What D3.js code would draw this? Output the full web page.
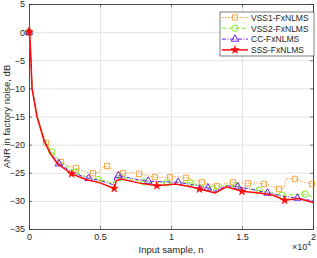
<!DOCTYPE html>
<html>
<head>
<meta charset="utf-8">
<script src="https://cdn.jsdelivr.net/npm/d3@7"></script>
<style>
  body { margin: 0; background: #fff; }
  text { font-family: Arial, "Liberation Sans", Helvetica, sans-serif; }
</style>
</head>
<body>
<div id="chart"></div>
<script>
// [sample, dB, isMarker]
var vss1 = [[0,0,1],[120,-5,0],[250,-10,0],[600,-15,0],[1200,-19.7,1],[1700,-21.8,0],[2250,-23.1,1],[2800,-23.8,0],[3310,-24.2,1],[3900,-24.8,0],[4500,-25.1,1],[4950,-24.9,0],[5150,-24.1,0],[5500,-23.8,1],[5800,-24.4,0],[6100,-24.9,0],[6620,-25.1,1],[7200,-25.0,0],[7750,-25.2,1],[8300,-25.5,0],[8870,-25.8,1],[9930,-25.8,1],[10500,-25.7,0],[11060,-25.9,1],[11600,-26.4,0],[12180,-26.7,1],[12700,-27.0,0],[13240,-27.4,1],[13800,-26.9,0],[14370,-26.7,1],[15420,-26.9,1],[16000,-26.8,0],[16550,-27.0,1],[17100,-27.4,0],[17610,-27.9,1],[17950,-27.7,0],[18100,-26.0,0],[18730,-26.1,1],[19300,-26.6,0],[19930,-27.0,1],[20000,-27.0,0]];
var vss2 = [[0,0,1],[130,-5,0],[230,-10,0],[580,-15,0],[1080,-19.2,0],[1620,-21.3,1],[2300,-23.3,0],[3240,-24.9,1],[4000,-25.7,0],[4860,-26.2,1],[5500,-26.5,0],[5950,-26.9,0],[6150,-25.9,0],[6480,-25.8,1],[7200,-26.2,0],[8100,-26.6,1],[9000,-26.7,0],[9720,-26.8,1],[10500,-26.6,0],[11340,-26.8,1],[12200,-27.3,0],[12960,-27.9,1],[13800,-27.2,0],[14580,-27.4,1],[15400,-27.8,0],[16200,-28.1,1],[17000,-28.5,0],[17820,-29.0,1],[18700,-28.9,0],[19440,-28.8,1],[20000,-29.3,0]];
var cc = [[0,0,1],[130,-5,0],[215,-10,0],[570,-15,0],[1070,-19.3,0],[1500,-21.4,0],[2100,-23.4,1],[3000,-24.8,0],[3800,-25.7,0],[4200,-26.0,1],[5000,-26.4,0],[5900,-27.1,0],[6100,-25.6,0],[6300,-25.5,1],[7400,-26.1,0],[8400,-26.5,1],[9500,-26.6,0],[10500,-26.7,1],[11500,-27.1,0],[12600,-27.7,1],[13100,-28.3,0],[13900,-27.3,0],[14700,-27.5,1],[15600,-27.9,0],[16800,-28.6,1],[17900,-29.2,0],[18900,-29.5,1],[20000,-30.0,0]];
var sss = [[0,0,1],[30,1,0],[140,-5,0],[210,-10,0],[560,-15,0],[1060,-19.3,0],[1500,-21.6,0],[2000,-23.4,0],[3000,-25.2,1],[4000,-26.2,0],[5000,-26.8,0],[6000,-27.8,1],[6150,-26.4,0],[6500,-26.1,0],[7700,-26.8,0],[9000,-27.3,1],[10300,-27.0,0],[11400,-27.5,0],[12000,-27.9,1],[13100,-28.6,0],[13900,-27.5,0],[15000,-28.3,1],[16200,-28.6,0],[17200,-29.0,0],[18000,-29.9,1],[19000,-29.6,0],[20000,-30.3,0]];

var xTicks = [0, 5000, 10000, 15000, 20000];
var xTickLabels = ["0", "0.5", "1", "1.5", "2"];
var yTicks = [5, 0, -5, -10, -15, -20, -25, -30, -35];

var series = [
  { name: "VSS1-FxNLMS", data: vss1, color: "#f7a540", dash: "1.5,1.5", width: 1, marker: "square" },
  { name: "VSS2-FxNLMS", data: vss2, color: "#80f020", dash: "4,2.5", width: 1, marker: "circle" },
  { name: "CC-FxNLMS", data: cc, color: "#6a1ef0", dash: "4,1.5,1,1.5", width: 1, marker: "triangle" },
  { name: "SSS-FxNLMS", data: sss, color: "#ff0a0a", dash: null, width: 1.5, marker: "star" }
];

var width = 317, height = 258;
var margin = {top: 4, right: 4, bottom: 29, left: 29};
var w = width - margin.left - margin.right;
var h = height - margin.top - margin.bottom;

var svg = d3.select("#chart").append("svg")
  .attr("width", width)
  .attr("height", height);

var g = svg.append("g").attr("transform", "translate(" + margin.left + "," + margin.top + ")");

var x = d3.scaleLinear().domain([0, 20000]).range([0, w]);
var y = d3.scaleLinear().domain([-35, 5]).range([h, 0]);

// grid
g.selectAll(".gx").data(xTicks).enter().append("line")
  .attr("x1", function(d) { return x(d) + 0.5 }).attr("x2", function(d) { return x(d) + 0.5 })
  .attr("y1", 0).attr("y2", h)
  .attr("stroke", "#e3e3e3").attr("stroke-width", 1);
g.selectAll(".gy").data(yTicks).enter().append("line")
  .attr("y1", function(d) { return y(d) + 0.5 }).attr("y2", function(d) { return y(d) + 0.5 })
  .attr("x1", 0).attr("x2", w)
  .attr("stroke", "#e3e3e3").attr("stroke-width", 1);

var xAxis = d3.axisBottom(x).tickValues(xTicks)
  .tickFormat(function(d, i) { return xTickLabels[i] }).tickSizeInner(-3).tickSizeOuter(0).tickPadding(5);
var yAxis = d3.axisLeft(y).tickValues(yTicks).tickSizeInner(-3).tickSizeOuter(0).tickPadding(4);

var gx = g.append("g").attr("transform", "translate(0," + h + ")").call(xAxis);
var gy = g.append("g").call(yAxis);
var gxTop = g.append("g").call(d3.axisTop(x).tickValues(xTicks).tickFormat("").tickSizeInner(-3).tickSizeOuter(0));
var gyRight = g.append("g").attr("transform", "translate(" + w + ",0)")
  .call(d3.axisRight(y).tickValues(yTicks).tickFormat("").tickSizeInner(-3).tickSizeOuter(0));

[gx, gy, gxTop, gyRight].forEach(function(a) {
  a.select(".domain").attr("stroke", "#262626").attr("stroke-width", 0.8);
  a.selectAll(".tick line").attr("stroke", "#262626").attr("stroke-width", 0.6);
  a.selectAll("text").attr("fill", "#262626").style("font-size", "9px");
});

var line = d3.line().x(function(d) { return x(d[0]) }).y(function(d) { return y(d[1]) });

var symbolTypes = {
  square: d3.symbolSquare,
  circle: d3.symbolCircle,
  triangle: d3.symbolTriangle,
  star: d3.symbolStar
};
var symbolSizes = { square: 28, circle: 32, triangle: 24, star: 20 };

function drawMarker(sel, s) {
  var filled = s.marker === "star";
  sel.attr("d", d3.symbol().type(symbolTypes[s.marker]).size(symbolSizes[s.marker])())
    .attr("fill", filled ? s.color : "none")
    .attr("stroke", s.color)
    .attr("stroke-width", filled ? 0.6 : 1);
}

series.forEach(function(s) {
  g.append("path")
    .datum(s.data)
    .attr("d", line)
    .attr("fill", "none")
    .attr("stroke", s.color)
    .attr("stroke-width", s.width)
    .attr("stroke-dasharray", s.dash);

  g.selectAll(".m-" + s.marker)
    .data(s.data.filter(function(d) { return d[2] === 1 }))
    .enter().append("path")
    .attr("class", "m-" + s.marker)
    .attr("transform", function(d) { return "translate(" + x(d[0]) + "," + y(d[1]) + ")" })
    .call(drawMarker, s);
});

// axis labels
svg.append("text")
  .attr("x", margin.left + w / 2)
  .attr("y", 253)
  .attr("text-anchor", "middle")
  .attr("fill", "#262626")
  .style("font-size", "9.5px")
  .text("Input sample, n");

svg.append("text")
  .attr("transform", "translate(10," + (margin.top + h / 2) + ") rotate(-90)")
  .attr("text-anchor", "middle")
  .attr("fill", "#262626")
  .style("font-size", "9.5px")
  .text("ANR in factory noise, dB");

var expo = svg.append("text")
  .attr("x", 292)
  .attr("y", 250)
  .attr("fill", "#262626")
  .style("font-size", "9px");
expo.append("tspan").text("\u00d710");
expo.append("tspan").attr("dy", -4).style("font-size", "6.5px").text("4");

// legend
var legend = svg.append("g").attr("transform", "translate(220,12)");
legend.append("rect")
  .attr("width", 94).attr("height", 44)
  .attr("fill", "#fff").attr("stroke", "#262626").attr("stroke-width", 0.6);

series.forEach(function(s, i) {
  var ly = 5.5 + i * 10.8;
  var row = legend.append("g").attr("transform", "translate(0," + ly + ")");
  row.append("line")
    .attr("x1", 2).attr("x2", 28)
    .attr("stroke", s.color)
    .attr("stroke-width", s.width)
    .attr("stroke-dasharray", s.dash);
  row.append("path")
    .attr("transform", "translate(15,0)")
    .call(drawMarker, s);
  row.append("text")
    .attr("x", 31).attr("y", 3.2)
    .attr("fill", "#262626")
    .style("font-size", "8.5px")
    .text(s.name);
});
</script>
</body>
</html>
